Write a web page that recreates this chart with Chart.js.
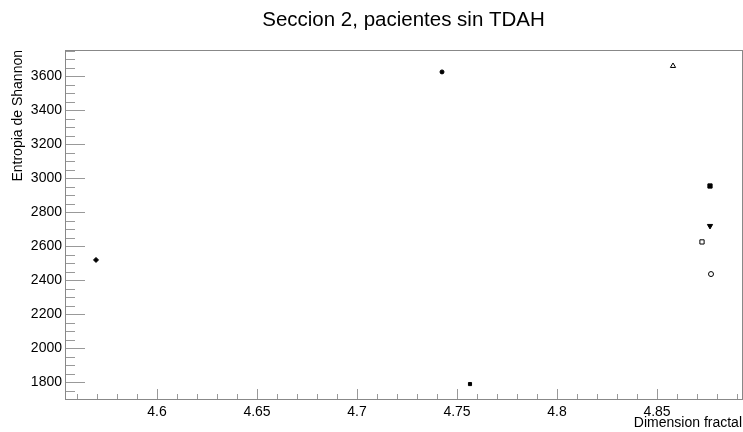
<!DOCTYPE html>
<html>
<head>
<meta charset="utf-8">
<title>Seccion 2, pacientes sin TDAH</title>
<script src="https://cdn.jsdelivr.net/npm/chart.js@4/dist/chart.umd.min.js"></script>
<style>
  html, body { margin: 0; padding: 0; background: #fff; }
  canvas { display: block; }
</style>
</head>
<body>
<canvas id="scatterChart" width="743" height="432"></canvas>
<script>
// Data (one point per patient)
const dimensionFractal = [4.5695, 4.7425, 4.7565, 4.858, 4.8765, 4.8765, 4.8725, 4.877];
const entropiaShannon = [2518, 3624, 1788, 3659, 2953, 2718, 2624, 2435];

// Tick labels
const xTickValues = [4.6, 4.65, 4.7, 4.75, 4.8, 4.85];
const yTickValues = [1800, 2000, 2200, 2400, 2600, 2800, 3000, 3200, 3400, 3600];

// Marker look for each point (ROOT-like markers)
const markerStyles = [
  { style: "rectRot", radius: 2.5, filled: true, rotation: 0 },
  { style: "circle", radius: 2, filled: true, rotation: 0 },
  { style: "rect", radius: 2.2, filled: true, rotation: 0 },
  { style: "triangle", radius: 3, filled: false, rotation: 0 },
  { style: "rect", radius: 3, filled: true, rotation: 0 },
  { style: "triangle", radius: 3, filled: true, rotation: 180 },
  { style: "rect", radius: 3, filled: false, rotation: 0 },
  { style: "circle", radius: 2.5, filled: false, rotation: 0 },
];

const fontFamily = '"Liberation Sans", Arial, Helvetica, sans-serif';
const frameColor = "#888888";

// Build one dataset per point so every marker can differ
const datasets = dimensionFractal.map((x, i) => {
  const m = markerStyles[i];
  return {
    label: "p" + (i + 1),
    data: [{ x: x, y: entropiaShannon[i] }],
    pointStyle: m.style,
    pointRadius: m.radius,
    pointHoverRadius: m.radius,
    pointRotation: m.rotation,
    pointBorderWidth: 1,
    pointBorderColor: "#000",
    pointBackgroundColor: m.filled ? "#000" : "rgba(0,0,0,0)",
  };
});

// ROOT-style frame with inward ticks
const framePlugin = {
  id: "framePlugin",
  afterDraw(chart) {
    const { ctx, chartArea: a, scales } = chart;
    const xs = scales.x;
    const ys = scales.y;
    ctx.save();
    ctx.lineWidth = 1;

    // ticks on x axis: minor every 0.01, major every 0.05
    ctx.strokeStyle = "#999999";
    ctx.beginPath();
    for (let k = 456; k <= 489; k++) {
      const v = k / 100;
      const px = Math.round(xs.getPixelForValue(v)) + 0.5;
      if (px < a.left || px > a.right) continue;
      const len = k % 5 === 0 ? 10 : 5;
      ctx.moveTo(px, a.bottom);
      ctx.lineTo(px, a.bottom - len);
    }
    // ticks on y axis: minor every 50, major every 200
    for (let v = 1700; v <= 3750; v += 50) {
      const py = Math.round(ys.getPixelForValue(v)) + 0.5;
      if (py < a.top || py > a.bottom) continue;
      const len = v % 200 === 0 ? 20 : 10;
      ctx.moveTo(a.left, py);
      ctx.lineTo(a.left + len, py);
    }
    ctx.stroke();

    // frame
    ctx.strokeStyle = frameColor;
    ctx.strokeRect(Math.round(a.left) + 0.5, Math.round(a.top) + 0.5,
      Math.round(a.right - a.left), Math.round(a.bottom - a.top));
    ctx.restore();
  },
};

const ctx = document.getElementById("scatterChart").getContext("2d");
const scatterChart = new Chart(ctx, {
  type: "scatter",
  data: { datasets: datasets },
  options: {
    responsive: false,
    animation: false,
    layout: { autoPadding: false, padding: { left: 0, right: 1, top: 0, bottom: 0 } },
    plugins: {
      legend: { display: false },
      tooltip: { enabled: false },
      title: {
        display: true,
        text: "Seccion 2, pacientes sin TDAH",
        color: "#000",
        fullSize: false,
        font: { family: fontFamily, size: 20.5, weight: "normal", lineHeight: 1.2 },
        padding: { top: 8, bottom: 17.4 },
      },
    },
    scales: {
      x: {
        type: "linear",
        min: 4.554,
        max: 4.8925,
        grid: { display: false, drawTicks: false },
        border: { display: false },
        afterBuildTicks: (scale) => {
          scale.ticks = xTickValues.map((v) => ({ value: v }));
        },
        afterFit: (scale) => {
          scale.height = 33;
          scale.paddingLeft = 0;
          scale.paddingRight = 0;
        },
        ticks: {
          color: "#000",
          padding: 5,
          maxRotation: 0,
          autoSkip: false,
          font: { family: fontFamily, size: 14 },
          callback: (value) => String(Number(value.toFixed(2))),
        },
        title: {
          display: true,
          text: "Dimension fractal",
          align: "end",
          color: "#000",
          font: { family: fontFamily, size: 14, lineHeight: 1.2 },
          padding: { top: 0, bottom: 0 },
        },
      },
      y: {
        type: "linear",
        min: 1700,
        max: 3753,
        grid: { display: false, drawTicks: false },
        border: { display: false },
        afterBuildTicks: (scale) => {
          scale.ticks = yTickValues.map((v) => ({ value: v }));
        },
        afterFit: (scale) => {
          scale.width = 65;
          scale.paddingTop = 0;
          scale.paddingBottom = 0;
        },
        ticks: {
          color: "#000",
          padding: 3,
          autoSkip: false,
          font: { family: fontFamily, size: 14 },
          callback: (value) => String(value),
        },
        title: {
          display: true,
          text: "Entropia de Shannon",
          align: "end",
          color: "#000",
          font: { family: fontFamily, size: 14, lineHeight: 1.2 },
          padding: { top: 10, bottom: 0 },
        },
      },
    },
  },
  plugins: [framePlugin],
});
</script>
</body>
</html>
